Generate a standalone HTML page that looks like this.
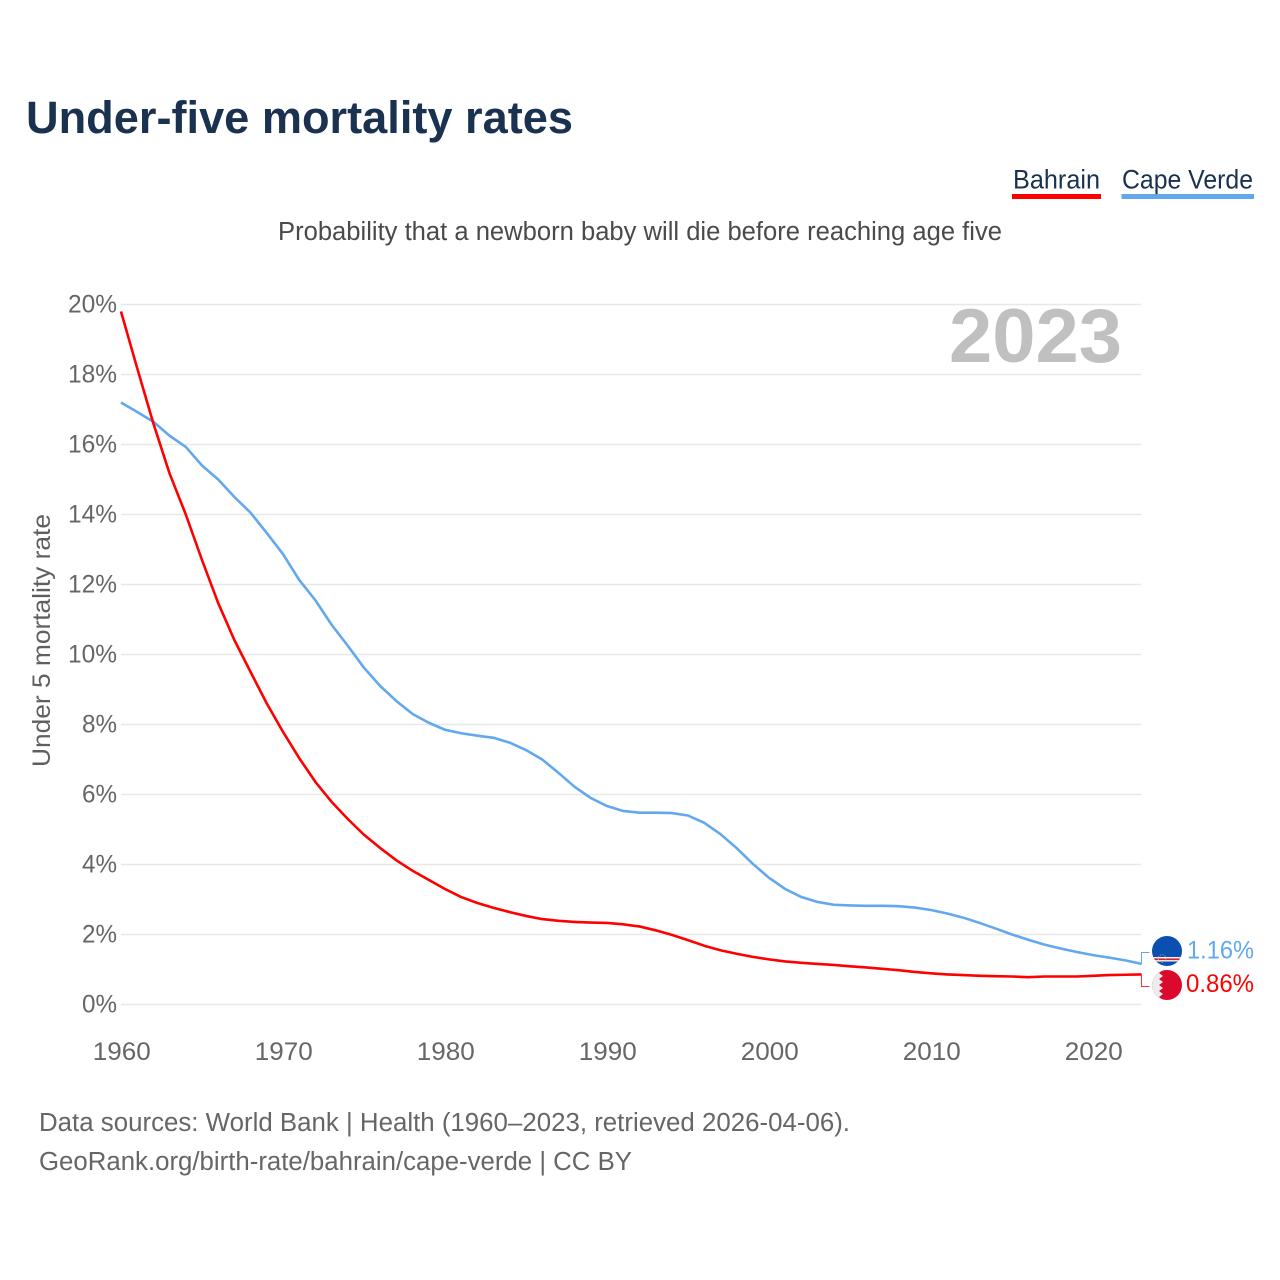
<!DOCTYPE html>
<html lang="en">
<head>
<meta charset="utf-8">
<title>Under-five mortality rates</title>
<style>
html,body{margin:0;padding:0;background:#fff}
svg{display:block}
text{font-family:"Liberation Sans",sans-serif}
</style>
</head>
<body>
<svg id="chart" xmlns="http://www.w3.org/2000/svg" width="1280" height="1280" viewBox="0 0 1280 1280">
  <rect width="1280" height="1280" fill="#fff"/>
  <text x="26" y="133" font-size="45" font-weight="700" fill="#1a3150" textLength="547" lengthAdjust="spacingAndGlyphs">Under-five mortality rates</text>
  <g>
    <text x="1013" y="188.5" font-size="26.5" fill="#1a3150" textLength="87" lengthAdjust="spacingAndGlyphs">Bahrain</text>
    <rect x="1012" y="194" width="89" height="5" fill="#ff0000"/>
  </g>
  <g>
    <text x="1122" y="188.5" font-size="26.5" fill="#1a3150" textLength="131" lengthAdjust="spacingAndGlyphs">Cape Verde</text>
    <rect x="1121.5" y="194" width="132.5" height="5" fill="#62a8ee"/>
  </g>
  <text x="278" y="240" font-size="25.5" fill="#4a4a4a" textLength="724" lengthAdjust="spacingAndGlyphs">Probability that a newborn baby will die before reaching age five</text>
  <g id="grid"></g>
  <text x="949" y="362" font-size="76" font-weight="700" fill="#c0c0c0" textLength="173" lengthAdjust="spacingAndGlyphs">2023</text>
  <g id="y-ticks"></g>
  <g id="x-ticks"></g>
  <text transform="translate(50,767) rotate(-90)" font-size="25" fill="#5f5f5f" textLength="253" lengthAdjust="spacingAndGlyphs">Under 5 mortality rate</text>
  <g id="series"></g>
  <g id="end-labels"></g>
  <defs>
    <clipPath id="flag-cv-clip"><circle cx="1167" cy="951" r="15"/></clipPath>
    <clipPath id="flag-bh-clip"><circle cx="1167" cy="985" r="15"/></clipPath>
  </defs>
  <g clip-path="url(#flag-cv-clip)">
    <rect x="1152" y="936" width="30" height="30" fill="#0b4fb0"/>
    <rect x="1152" y="957" width="30" height="4.5" fill="#f4f4f4"/>
    <rect x="1152" y="958.4" width="30" height="1.7" fill="#cf2030"/>
    <circle cx="1162" cy="958.5" r="3.8" fill="none" stroke="#d8c070" stroke-width="0.9" stroke-dasharray="1 1.6"/>
  </g>
  <g clip-path="url(#flag-bh-clip)">
    <rect x="1152" y="970" width="30" height="30" fill="#da0a2c"/>
    <polygon points="1152,970 1163,970 1159,973 1163,976 1159,979 1163,982 1159,985 1163,988 1159,991 1163,994 1159,997 1163,1000 1152,1000" fill="#ececec"/>
  </g>
</svg>
<script>
const years = [1960,1961,1962,1963,1964,1965,1966,1967,1968,1969,1970,1971,1972,1973,1974,1975,1976,1977,1978,1979,1980,1981,1982,1983,1984,1985,1986,1987,1988,1989,1990,1991,1992,1993,1994,1995,1996,1997,1998,1999,2000,2001,2002,2003,2004,2005,2006,2007,2008,2009,2010,2011,2012,2013,2014,2015,2016,2017,2018,2019,2020,2021,2022,2023];
const bahrain = [19.8,18.18,16.6,15.17,14.0,12.7,11.47,10.41,9.5,8.6,7.79,7.04,6.36,5.79,5.3,4.85,4.47,4.12,3.82,3.56,3.3,3.07,2.9,2.76,2.64,2.53,2.44,2.39,2.36,2.34,2.33,2.29,2.23,2.12,1.99,1.84,1.68,1.55,1.45,1.36,1.29,1.23,1.19,1.16,1.13,1.09,1.06,1.02,0.98,0.93,0.89,0.86,0.84,0.82,0.81,0.80,0.78,0.80,0.80,0.80,0.82,0.84,0.85,0.86];
const capeVerde = [17.2,16.93,16.65,16.25,15.93,15.4,15.0,14.5,14.05,13.47,12.87,12.13,11.55,10.85,10.25,9.62,9.1,8.67,8.3,8.05,7.85,7.75,7.68,7.62,7.48,7.27,7.0,6.62,6.22,5.9,5.67,5.53,5.48,5.48,5.47,5.4,5.19,4.87,4.47,4.02,3.62,3.3,3.07,2.93,2.85,2.83,2.82,2.82,2.81,2.77,2.7,2.6,2.48,2.33,2.17,2.0,1.85,1.71,1.6,1.5,1.41,1.34,1.26,1.16];
const yTickValues = [0,2,4,6,8,10,12,14,16,18,20];
const xTickValues = [1960,1970,1980,1990,2000,2010,2020];
const endLabelBahrain = "0.86%";
const endLabelCapeVerde = "1.16%";

const NS = "http://www.w3.org/2000/svg";
const xScale = function (year) { return 121 + (year - 1960) * 16.2; };
const yScale = function (value) { return 1004.5 - value * 35; };

function make(tag, parentId) {
  const el = document.createElementNS(NS, tag);
  document.getElementById(parentId).appendChild(el);
  return el;
}

yTickValues.forEach(function (v) {
  const line = make("line", "grid");
  
  
  line.setAttribute("x1", 121);
  line.setAttribute("x2", 1141.5);
  line.setAttribute("y1", yScale(v));
  line.setAttribute("y2", yScale(v));
  line.setAttribute("stroke", "#e8e8e8");
  line.setAttribute("stroke-width", "1.4");

  const label = make("text", "y-ticks");
  
  
  label.setAttribute("x", 117);
  label.setAttribute("y", yScale(v) + 7.8);
  label.setAttribute("text-anchor", "end");
  label.setAttribute("font-size", "25");
  label.setAttribute("fill", "#666");
  label.setAttribute("textLength", v >= 10 ? 49 : 35);
  label.setAttribute("lengthAdjust", "spacingAndGlyphs");
  label.textContent = v + "%";
});

xTickValues.forEach(function (y) {
  const label = make("text", "x-ticks");
  
  
  label.setAttribute("x", xScale(y) + 0.8);
  label.setAttribute("y", 1060);
  label.setAttribute("text-anchor", "middle");
  label.setAttribute("font-size", "25");
  label.setAttribute("fill", "#666");
  label.setAttribute("textLength", 58);
  label.setAttribute("lengthAdjust", "spacingAndGlyphs");
  label.textContent = y;
});

function linePath(values) {
  return values.map(function (v, i) {
    return (i ? "L" : "M") + xScale(years[i]).toFixed(2) + " " + yScale(v).toFixed(2);
  }).join(" ");
}

const cvLine = make("path", "series");


cvLine.setAttribute("d", linePath(capeVerde));
cvLine.setAttribute("fill", "none");
cvLine.setAttribute("stroke", "#62a8ee");
cvLine.setAttribute("stroke-width", "2.6");
cvLine.setAttribute("stroke-linejoin", "round");

const bhLine = make("path", "series");


bhLine.setAttribute("d", linePath(bahrain));
bhLine.setAttribute("fill", "none");
bhLine.setAttribute("stroke", "#ff0000");
bhLine.setAttribute("stroke-width", "2.6");
bhLine.setAttribute("stroke-linejoin", "round");

const lastX = 1141.5;

const cvConnector = make("path", "end-labels");


cvConnector.setAttribute("d", "M" + lastX + " " + yScale(capeVerde[capeVerde.length - 1]) + " V952.5 H1149.5");
cvConnector.setAttribute("fill", "none");
cvConnector.setAttribute("stroke", "#62a8ee");
cvConnector.setAttribute("stroke-width", "1");
cvConnector.setAttribute("shape-rendering", "crispEdges");

const bhConnector = make("path", "end-labels");


bhConnector.setAttribute("d", "M" + lastX + " " + yScale(bahrain[bahrain.length - 1]) + " V986.5 H1149.5");
bhConnector.setAttribute("fill", "none");
bhConnector.setAttribute("stroke", "#ff3030");
bhConnector.setAttribute("stroke-width", "1");
bhConnector.setAttribute("shape-rendering", "crispEdges");

const cvEnd = make("text", "end-labels");


cvEnd.setAttribute("x", 1187);
cvEnd.setAttribute("y", 958.5);
cvEnd.setAttribute("font-size", "25");
cvEnd.setAttribute("fill", "#62a8ee");
cvEnd.setAttribute("textLength", 67);
cvEnd.setAttribute("lengthAdjust", "spacingAndGlyphs");
cvEnd.textContent = endLabelCapeVerde;

const bhEnd = make("text", "end-labels");


bhEnd.setAttribute("x", 1186);
bhEnd.setAttribute("y", 992);
bhEnd.setAttribute("font-size", "25");
bhEnd.setAttribute("fill", "#ff0000");
bhEnd.setAttribute("textLength", 68);
bhEnd.setAttribute("lengthAdjust", "spacingAndGlyphs");
bhEnd.textContent = endLabelBahrain;

const sourceLines = ["Data sources: World Bank | Health (1960–2023, retrieved 2026-04-06).", "GeoRank.org/birth-rate/bahrain/cape-verde | CC BY"];
const sourceWidths = [811, 593];
sourceLines.forEach(function (t, i) {
  const s = make("text", "chart");
  
  
  s.setAttribute("x", 39);
  s.setAttribute("y", 1131 + i * 39);
  s.setAttribute("font-size", "25.5");
  s.setAttribute("fill", "#666");
  s.setAttribute("textLength", sourceWidths[i]);
  s.setAttribute("lengthAdjust", "spacingAndGlyphs");
  s.textContent = t;
});
</script>
</body>
</html>
